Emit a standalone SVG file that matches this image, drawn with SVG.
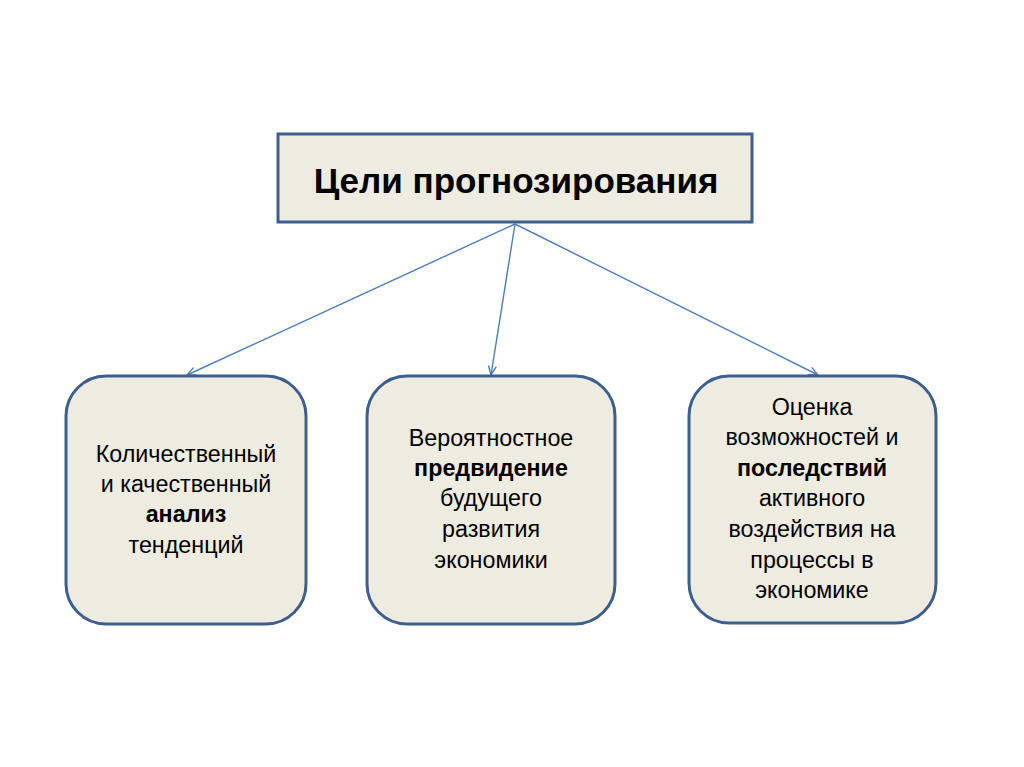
<svg xmlns="http://www.w3.org/2000/svg" width="1024" height="767" viewBox="0 0 1024 767">
<style>
.box{fill:#eeece1;stroke:#3c5f8d;stroke-width:3}
.t{font-family:"Liberation Sans",Arial,sans-serif;font-size:23.3px;fill:#000;text-anchor:middle}
.b{font-weight:bold}
.title{font-family:"Liberation Sans",Arial,sans-serif;font-size:35px;font-weight:bold;fill:#000;text-anchor:middle}
.c{stroke:#4a7ebb;stroke-width:1.4;fill:none;marker-end:url(#ah)}
</style>
<defs>
<marker id="ah" markerWidth="12" markerHeight="12" refX="10" refY="5" orient="auto" markerUnits="userSpaceOnUse">
<path d="M1,1 L10,5 L1,9" fill="none" stroke="#4a7ebb" stroke-width="1.4"/>
</marker>
</defs>
<rect width="1024" height="767" fill="#fff"/>
<g id="connectors">
<line class="c" x1="515" y1="224" x2="187" y2="375"/>
<line class="c" x1="515" y1="224" x2="491" y2="375"/>
<line class="c" x1="515" y1="224" x2="818" y2="375"/>
</g>
<g id="root">
<rect class="box" x="278" y="134" width="474" height="88"/>
<text class="title" x="516" y="193">Цели прогнозирования</text>
</g>
<g id="node1">
<rect class="box" x="66" y="376" width="240" height="248" rx="40"/>
<text class="t" x="186" y="462">Количественный</text>
<text class="t" x="186" y="492">и качественный</text>
<text class="t b" x="186" y="522">анализ</text>
<text class="t" x="186" y="553">тенденций</text>
</g>
<g id="node2">
<rect class="box" x="367" y="376" width="248" height="248" rx="40"/>
<text class="t" x="491" y="446">Вероятностное</text>
<text class="t b" x="491" y="476">предвидение</text>
<text class="t" x="491" y="506">будущего</text>
<text class="t" x="491" y="537">развития</text>
<text class="t" x="491" y="568">экономики</text>
</g>
<g id="node3">
<rect class="box" x="689" y="376" width="247" height="247" rx="40"/>
<text class="t" x="812" y="415">Оценка</text>
<text class="t" x="812" y="445">возможностей и</text>
<text class="t b" x="812" y="476">последствий</text>
<text class="t" x="812" y="506">активного</text>
<text class="t" x="812" y="537">воздействия на</text>
<text class="t" x="812" y="568">процессы в</text>
<text class="t" x="812" y="598">экономике</text>
</g>
</svg>
